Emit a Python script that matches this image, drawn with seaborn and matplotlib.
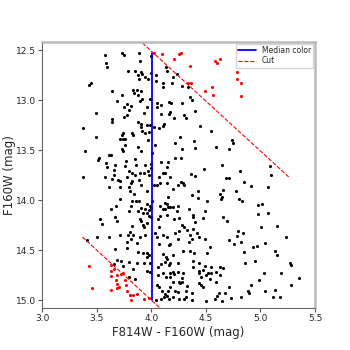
import numpy as np
import pandas as pd
import matplotlib
matplotlib.use("Agg")
import matplotlib.pyplot as plt
import seaborn as sns

# 星点数据：颜色 (F814W - F160W) 和星等 (F160W)
black_color = [
    3.580, 3.735, 3.753, 3.890, 3.994, 3.897, 3.586, 3.592, 3.784, 3.854, 3.903, 3.875, 3.918, 3.890, 3.942,
    3.973, 3.994, 4.043, 4.046, 4.107, 4.110, 4.147, 4.140, 3.451, 3.433, 3.640, 3.836, 3.866, 3.903, 3.842,
    3.875, 3.918, 3.897, 3.729, 3.689, 3.781, 3.753, 3.811, 3.793, 3.930, 3.988, 3.964, 4.055, 4.049, 4.086,
    4.092, 4.165, 4.159, 3.491, 3.753, 3.781, 3.640, 3.640, 3.878, 3.906, 3.958, 3.988, 3.909, 4.025, 4.074,
    4.104, 4.119, 3.378,
    4.203, 4.233, 4.190, 4.282, 4.340, 4.355, 4.373, 4.178, 4.282, 4.172, 4.209, 4.300, 4.318, 4.404, 4.447,
    4.550, 4.264, 4.218, 4.392, 4.398, 4.279, 4.593, 4.736, 4.752, 4.715, 4.218, 4.270, 4.651, 4.483, 4.361,
    4.404, 4.172, 4.813, 4.685, 4.715, 5.087, 5.093, 4.276, 4.288, 4.300, 4.245, 4.203, 4.849, 4.910, 4.660,
    4.776, 5.069, 4.428, 4.373, 4.428, 4.630, 4.645, 4.642, 4.514, 4.806, 4.834, 4.172, 4.203, 4.245, 4.233,
    4.349, 4.492, 4.386, 4.386, 4.209, 4.258, 4.477, 4.660, 4.977, 5.014, 4.977, 5.069,
    4.691, 4.404, 4.282, 4.300, 4.221, 4.258, 4.325, 4.386, 4.355, 4.373, 4.349, 4.245, 4.440, 4.422, 4.489,
    4.172, 4.538, 4.508, 4.294, 4.355, 4.392, 4.196, 4.715, 4.758, 4.782, 4.794, 4.837, 4.825, 4.849, 4.935,
    4.965, 5.001, 5.044, 5.154, 5.234, 5.136, 5.148, 4.172, 4.245, 4.386, 4.380, 4.434, 4.489, 4.544, 4.630,
    4.660, 4.856, 4.947, 5.270, 5.282, 4.196, 4.209, 4.245, 4.294, 4.440, 4.477, 4.520, 4.544, 4.501, 4.593,
    4.630, 5.032, 5.185, 4.172, 4.434, 4.459, 4.282, 4.538, 4.989, 5.355, 4.203, 4.251, 4.264, 4.282, 4.331,
    4.434, 4.459, 4.471, 4.593, 4.709, 4.910, 5.282, 4.172, 4.221, 4.245, 4.318, 4.373, 4.617, 4.678, 4.886,
    4.898, 5.044, 5.130, 4.196, 4.258, 4.300, 4.318, 4.373, 4.502, 4.581, 4.599, 4.648, 4.727, 4.825, 5.118,
    5.179,
    3.744, 3.823, 3.836, 3.912, 3.942, 3.982, 3.729, 3.491, 3.714, 3.738, 3.762, 3.762, 3.729, 3.738, 3.393,
    3.878, 3.909, 3.970, 4.003, 4.037, 3.521, 3.515, 3.616, 3.628, 3.585, 3.598, 3.665, 3.662, 3.659, 3.768,
    3.762, 3.854, 3.857, 3.939, 3.994, 3.994, 4.086, 4.153, 4.141, 3.793, 3.823, 3.854, 3.897, 3.933, 3.970,
    3.976, 4.104, 4.129, 3.372, 3.579, 3.640, 3.695, 3.714, 3.775, 3.823, 3.811, 3.884, 4.067, 4.080, 4.025,
    4.055, 4.141, 3.616, 3.714, 3.903, 3.799, 3.805, 3.842, 3.958, 4.153, 3.714, 3.823, 3.860, 3.884, 3.817,
    3.958, 3.988, 4.006, 3.909, 3.939, 3.976, 4.000, 3.628, 3.677, 3.799, 3.878, 3.927, 3.964, 4.129, 4.141,
    4.153, 4.080, 4.104, 4.129, 4.080, 4.061, 4.147, 3.982, 4.000, 3.531, 3.671, 3.897,
    3.549, 3.683, 3.823, 3.909, 3.921, 3.964, 3.933, 4.067, 3.500, 3.616, 3.714, 3.805, 3.787, 3.836, 3.817,
    3.897, 3.945, 4.037, 4.055, 4.104, 4.141, 4.074, 4.165, 3.775, 3.866, 3.665, 3.775, 3.878, 3.921, 3.958,
    3.982, 3.964, 3.933, 3.988, 4.104, 4.135, 4.147, 4.086, 4.129, 4.159, 3.683, 3.726, 3.799, 3.872, 3.659,
    3.738, 3.829, 3.964, 3.988, 4.061, 4.061, 4.171, 4.104, 4.135, 3.793, 3.854, 4.049, 4.067, 4.098, 4.129,
    4.153, 4.043, 4.092, 4.116, 4.147, 3.409, 4.165,
]
black_mag = [
    12.550, 12.533, 12.547, 12.527, 12.560, 12.613, 12.633, 12.673, 12.713, 12.707, 12.717, 12.753, 12.743, 12.787, 12.767,
    12.793, 12.733, 12.753, 12.813, 12.827, 12.873, 12.713, 12.670, 12.827, 12.853, 12.907, 12.900, 12.900, 12.907, 12.933,
    12.950, 12.993, 13.010, 12.953, 13.013, 13.040, 13.067, 13.057, 13.100, 13.127, 12.993, 13.067, 13.033, 13.067, 13.053,
    13.140, 13.023, 13.143, 13.127, 13.167, 13.153, 13.193, 13.220, 13.220, 13.240, 13.253, 13.247, 13.273, 13.273, 13.277,
    13.260, 13.240, 13.283,
    12.773, 12.743, 12.827, 12.863, 12.870, 12.967, 13.000, 13.027, 13.033, 13.117, 13.177, 13.150, 13.183, 13.113, 13.257,
    13.307, 13.373, 13.427, 13.407, 13.483, 13.490, 13.467, 13.400, 13.427, 13.493, 13.583, 13.583, 13.653, 13.693, 13.740,
    13.763, 13.767, 13.713, 13.783, 13.777, 13.657, 13.753, 13.820, 13.833, 13.850, 13.847, 13.893, 13.823, 13.860, 13.900,
    13.907, 13.873, 13.910, 13.953, 13.980, 13.943, 13.967, 13.993, 14.007, 13.987, 14.010, 14.067, 14.073, 14.063, 14.113,
    14.093, 14.110, 14.150, 14.173, 14.187, 14.183, 14.183, 14.173, 14.047, 14.040, 14.140, 14.127,
    14.207, 14.220, 14.253, 14.273, 14.333, 14.307, 14.300, 14.293, 14.347, 14.387, 14.420, 14.393, 14.367, 14.327, 14.387,
    14.440, 14.467, 14.533, 14.513, 14.513, 14.533, 14.547, 14.400, 14.440, 14.360, 14.313, 14.333, 14.417, 14.520, 14.467,
    14.460, 14.273, 14.433, 14.260, 14.373, 14.507, 14.547, 14.633, 14.633, 14.613, 14.667, 14.633, 14.660, 14.667, 14.673,
    14.680, 14.627, 14.613, 14.627, 14.647, 14.720, 14.740, 14.720, 14.733, 14.707, 14.700, 14.727, 14.727, 14.747, 14.720,
    14.747, 14.733, 14.727, 14.767, 14.733, 14.767, 14.780, 14.793, 14.800, 14.780, 14.820, 14.820, 14.833, 14.820, 14.860,
    14.833, 14.847, 14.873, 14.820, 14.867, 14.853, 14.853, 14.873, 14.907, 14.920, 14.913, 14.927, 14.927, 14.933, 14.907,
    14.933, 14.907, 14.900, 14.967, 14.993, 14.987, 14.967, 15.000, 15.007, 14.987, 14.960, 15.007, 14.980, 14.973, 14.973,
    14.973,
    13.327, 13.333, 13.347, 13.313, 13.333, 13.317, 13.347, 13.373, 13.387, 13.387, 13.387, 13.450, 13.493, 13.513, 13.507,
    13.473, 13.507, 13.400, 13.527, 13.450, 13.580, 13.600, 13.547, 13.547, 13.633, 13.673, 13.653, 13.700, 13.753, 13.613,
    13.660, 13.587, 13.647, 13.647, 13.640, 13.680, 13.620, 13.620, 13.667, 13.707, 13.733, 13.747, 13.727, 13.727, 13.707,
    13.747, 13.727, 13.733, 13.767, 13.767, 13.793, 13.800, 13.807, 13.767, 13.813, 13.833, 13.800, 13.773, 13.827, 13.853,
    13.847, 13.827, 13.867, 13.867, 13.847, 13.867, 13.913, 13.940, 13.913, 13.973, 13.993, 14.013, 14.007, 14.007, 14.060,
    14.040, 14.060, 14.013, 14.080, 14.087, 14.100, 14.080, 14.087, 14.060, 14.107, 14.107, 14.127, 14.127, 14.027, 14.040,
    14.067, 14.060, 14.093, 14.087, 14.160, 14.187, 14.153, 14.160, 14.173, 14.187, 14.173, 14.193,
    14.240, 14.213, 14.260, 14.213, 14.247, 14.233, 14.273, 14.273, 14.367, 14.367, 14.353, 14.320, 14.347, 14.353, 14.387,
    14.367, 14.353, 14.333, 14.367, 14.347, 14.373, 14.440, 14.453, 14.420, 14.427, 14.487, 14.480, 14.520, 14.533, 14.527,
    14.547, 14.573, 14.627, 14.627, 14.540, 14.567, 14.587, 14.640, 14.620, 14.653, 14.600, 14.613, 14.620, 14.633, 14.640,
    14.660, 14.687, 14.707, 14.720, 14.667, 14.753, 14.733, 14.727, 14.767, 14.767, 14.787, 14.853, 14.873, 14.907, 14.940,
    14.913, 15.000, 14.987, 14.973, 14.960, 14.400, 14.987,
]

# 被剔除的星（红色）
red_color = [
    4.030, 4.101, 4.210, 4.251, 4.276, 4.355, 4.584, 4.599, 4.630, 4.337, 4.361, 4.559, 4.489, 4.569, 4.785,
    4.782, 4.822, 4.822,
    3.433, 3.458, 3.629, 3.629, 3.635, 3.690, 3.721, 3.678, 3.684, 3.635, 3.684, 3.708, 3.763, 3.769, 3.781,
    3.806, 3.812, 3.836, 3.873, 3.934, 3.977, 3.660, 3.745,
]
red_mag = [
    12.530, 12.540, 12.590, 12.540, 12.527, 12.657, 12.607, 12.627, 12.593, 12.833, 12.827, 12.870, 12.913, 12.950, 12.723,
    12.793, 12.833, 12.960,
    14.657, 14.883, 14.650, 14.710, 14.757, 14.750, 14.743, 14.803, 14.837, 14.903, 14.877, 14.870, 14.797, 14.850, 14.910,
    14.950, 14.997, 14.950, 14.937, 14.990, 14.977, 14.690, 14.730,
]

# 中值颜色和两条切割线
median_color = 4.01
median_range = [12.53, 15.00]
cut_top_x = [3.80, 5.26]
cut_top_y = [12.31, 13.77]
cut_bot_x = [3.37, 4.20]
cut_bot_y = [14.37, 15.20]

sns.set_style("white")

df_black = pd.DataFrame({"color": black_color, "mag": black_mag})
df_red = pd.DataFrame({"color": red_color, "mag": red_mag})

fig, ax = plt.subplots(figsize=(3.5, 3.5), dpi=100)
fig.subplots_adjust(left=0.12, right=0.9, bottom=0.12, top=0.88)

sns.scatterplot(data=df_black, x="color", y="mag", color="black", s=5, linewidth=0, ax=ax)
sns.scatterplot(data=df_red, x="color", y="mag", color="red", s=5, linewidth=0, ax=ax)

l1, = ax.plot([median_color, median_color], median_range, color="blue", lw=1.3, label="Median color")
l2, = ax.plot(cut_top_x, cut_top_y, color="red", ls="--", lw=0.8, label="Cut")
ax.plot(cut_bot_x, cut_bot_y, color="red", ls="--", lw=0.8)

ax.set_xlim(3.0, 5.5)
ax.set_ylim(15.08, 12.42)
ax.set_xticks([3.0, 3.5, 4.0, 4.5, 5.0, 5.5])
ax.set_yticks([12.5, 13.0, 13.5, 14.0, 14.5, 15.0])
ax.set_xlabel("F814W - F160W (mag)", fontsize=8.5, labelpad=2)
ax.set_ylabel("F160W (mag)", fontsize=8.5, labelpad=0)
ax.tick_params(axis="both", labelsize=6.5, direction="out", length=3, width=0.8, color="#555555",
               left=True, bottom=True, pad=1.5)

for side in ["left", "bottom"]:
    ax.spines[side].set_color("#666666")
    ax.spines[side].set_linewidth(0.8)
for side in ["top", "right"]:
    ax.spines[side].set_color("#bbbbbb")
    ax.spines[side].set_linewidth(1.8)

ax.legend(handles=[l1, l2], loc="upper right", fontsize=5.5, frameon=True,
          borderaxespad=0.2, handlelength=2.3, borderpad=0.3, labelspacing=0.2)

fig.savefig("out.png", dpi=100)
